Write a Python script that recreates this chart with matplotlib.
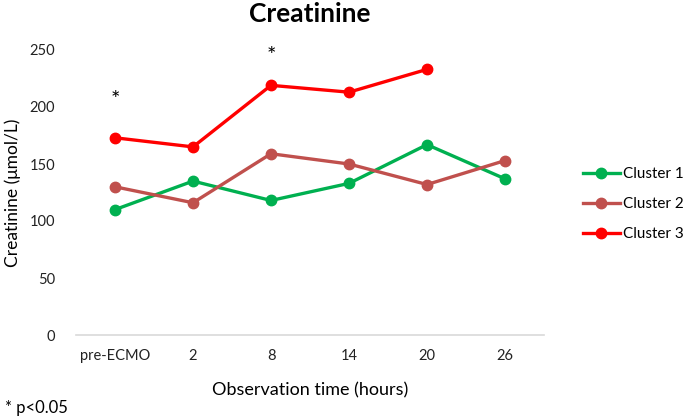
import numpy as np
import matplotlib.pyplot as plt

plt.rcParams['font.family'] = ['Lato', 'DejaVu Sans']

categories = ["pre-ECMO", "2", "8", "14", "20", "26"]
cluster1 = [110, 135, 118, 133, 167, 137]
cluster2 = [130, 116, 159, 150, 132, 153]
cluster3 = [173, 165, 219, 213, 233]
series_names = ["Cluster 1", "Cluster 2", "Cluster 3"]
colors = ["#00b050", "#c0504d", "#ff0000"]
star_pos = [(0, 206), (2, 245)]

fig = plt.figure(figsize=(6.85, 4.19), dpi=100)
ax = fig.add_axes([76/685, 84/419, 468/685, 285/419])

x = np.arange(len(categories))
for vals, name, c in zip([cluster1, cluster2, cluster3], series_names, colors):
    ax.plot(x[:len(vals)], vals, color=c, lw=2.4, marker='o', ms=7.5, label=name)

for xi, yi in star_pos:
    ax.text(xi, yi, "*", ha='center', va='center', fontsize=16)

ax.set_xlim(-0.5, len(categories) - 0.5)
ax.set_ylim(0, 250)
ax.set_yticks(np.arange(0, 251, 50))
ax.set_xticks(x)
ax.set_xticklabels(categories)
ax.tick_params(length=0, labelsize=10.5, colors='#222222', pad=10)
ax.tick_params(axis='y', pad=15)
for s in ['top', 'right', 'left']:
    ax.spines[s].set_visible(False)
ax.spines['bottom'].set_color('#d9d9d9')
ax.spines['bottom'].set_linewidth(1.2)
ax.set_xlabel("Observation time (hours)", fontsize=13, labelpad=14)
ax.set_ylabel("Creatinine (μmol/L)", fontsize=12.5, labelpad=6)
ax.set_title("Creatinine", fontsize=19, fontweight='bold', pad=20)

ax.legend(loc='center left', bbox_to_anchor=(583/685, 1 - 204/419),
          bbox_transform=fig.transFigure, frameon=False, borderpad=0,
          borderaxespad=0, fontsize=11, handlelength=2.4, labelspacing=1.05,
          handletextpad=0.25)

fig.text(5/685, 1 - 408/419, "* p<0.05", fontsize=12, va='center')

fig.savefig("out.png", dpi=100)
